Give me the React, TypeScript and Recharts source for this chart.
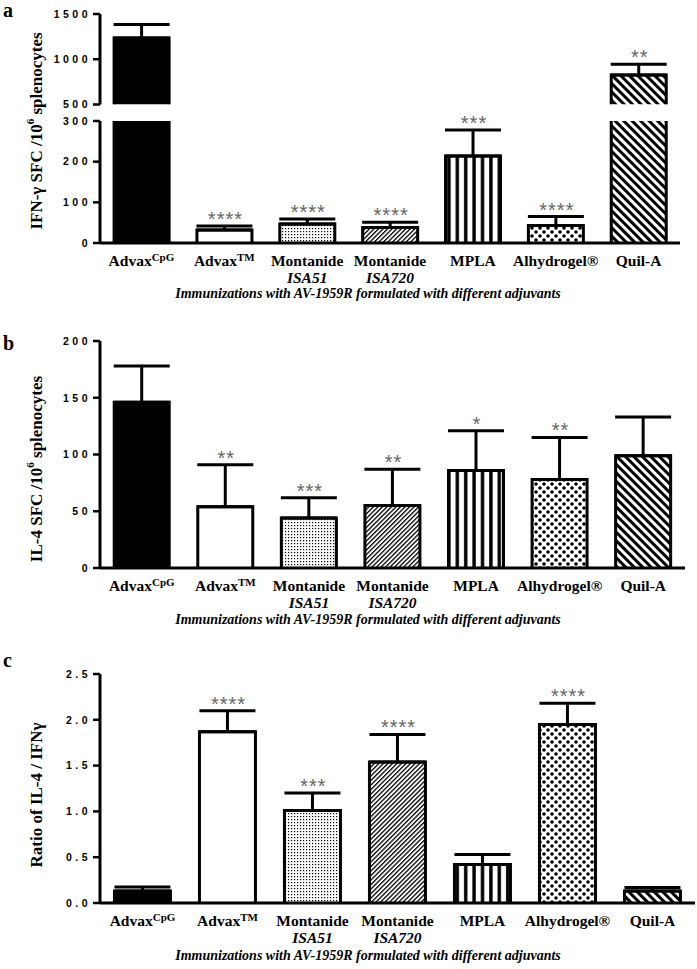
import type { ReactNode } from "react";
import { BarChart, Bar, XAxis, YAxis, ErrorBar, LabelList } from "recharts";

const SERIF = '"Liberation Serif", "Times New Roman", Times, serif';
const SANS = '"Liberation Sans", Arial, Helvetica, sans-serif';

/* adjuvant groups, in plot order */
const GROUPS = ["AdvaxCpG", "AdvaxTM", "Montanide ISA51", "Montanide ISA720", "MPLA", "Alhydrogel®", "Quil-A"];
const NAME_MAIN = ["Advax", "Advax", "Montanide", "Montanide", "MPLA", "Alhydrogel®", "Quil-A"];
const NAME_SUP = ["CpG", "TM", "", "", "", "", ""];
const NAME_SUB = ["", "", "ISA51", "ISA720", "", "", ""];

/* a: IFN-γ SFC / 10^6 splenocytes */
const IFN_MEAN = [1235, 32, 47, 38, 214, 43, 826];
const IFN_SD = [149, 10, 12, 13, 64, 22, 118];
const IFN_STARS = ["", "****", "****", "****", "***", "****", "**"];
const IFN_LOW_TICKS = [0, 100, 200, 300];
const IFN_HIGH_TICKS = [500, 1000, 1500];

/* b: IL-4 SFC / 10^6 splenocytes */
const IL4_MEAN = [146, 54, 44, 55, 86, 78, 99];
const IL4_SD = [32, 37, 18, 32, 35, 37, 34];
const IL4_STARS = ["", "**", "***", "**", "*", "**", ""];
const IL4_TICKS = [0, 50, 100, 150, 200];

/* c: IL-4 / IFN-γ ratio */
const RATIO_MEAN = [0.13, 1.87, 1.01, 1.54, 0.42, 1.95, 0.13];
const RATIO_SD = [0.045, 0.23, 0.19, 0.3, 0.11, 0.23, 0.04];
const RATIO_STARS = ["", "****", "***", "****", "", "****", ""];
const RATIO_TICKS = [0, 0.5, 1, 1.5, 2, 2.5];

const SUBTITLE = "Immunizations with AV-1959R formulated with different adjuvants";

const FILLS = ["#000", "#fff", "url(#pat-dots)", "url(#pat-fine)", "url(#pat-vert)", "url(#pat-diamond)", "url(#pat-diag)"];

type Row = { group: string; idx: number; value: number | null; err: [number, number] | null; stars: string };

function buildRows(
  mean: number[], sd: number[], stars: string[],
  showBar: (v: number) => boolean = () => true,
  showErr: (v: number) => boolean = () => true,
): Row[] {
  return GROUPS.map((group, i) => {
    const v = mean[i];
    const e = showErr(v);
    return { group, idx: i, value: showBar(v) ? v : null, err: e ? [0, sd[i]] : null, stars: e ? stars[i] : "" };
  });
}

const ifnHigh = buildRows(IFN_MEAN, IFN_SD, IFN_STARS, (v) => v >= 500, (v) => v >= 500);
const ifnLow = buildRows(IFN_MEAN, IFN_SD, IFN_STARS, () => true, (v) => v <= 300);
const il4Rows = buildRows(IL4_MEAN, IL4_SD, IL4_STARS);
const ratioRows = buildRows(RATIO_MEAN, RATIO_SD, RATIO_STARS);

function PatternBar(props: any) {
  const { x, y, width, height, payload } = props;
  if (!width || !height || height <= 0) return <g />;
  const fill = FILLS[payload?.idx ?? 0];
  return (
    <g>
      <rect x={x} y={y} width={width} height={height} fill={fill} />
      <path d={`M${x},${y + height}V${y}H${x + width}V${y + height}`} fill="none" stroke="#000" strokeWidth={3} />
    </g>
  );
}

function CategoryTick({ x, y, payload }: any) {
  const i = GROUPS.indexOf(payload.value);
  return (
    <g>
      <text x={x} y={y + 23} textAnchor="middle" fontFamily={SERIF} fontWeight="bold" fontSize={15.5} fill="#000">
        {NAME_MAIN[i]}
        {NAME_SUP[i] && <tspan dy={-5} fontSize={11}>{NAME_SUP[i]}</tspan>}
      </text>
      {NAME_SUB[i] && (
        <text x={x} y={y + 40} textAnchor="middle" fontFamily={SERIF} fontWeight="bold" fontStyle="italic" fontSize={15.5} fill="#000">
          {NAME_SUB[i]}
        </text>
      )}
    </g>
  );
}

function ValueTick({ x, y, payload, digits }: any) {
  const v = Number(payload.value);
  return (
    <text x={x} y={y} dy="0.36em" textAnchor="end" fontFamily={SANS} fontWeight="bold" fontSize={10.5} fill="#000" style={{ letterSpacing: "3.5px" }}>
      {digits ? v.toFixed(digits) : String(v)}
    </text>
  );
}

const starLabel = (rows: Row[], base: number) => (p: any) => {
  const row = rows[p.value];
  if (!row || !row.stars || row.value == null || !row.err) return null;
  const vb = p.viewBox || p;
  const ppu = vb.height / (row.value - base);
  const top = vb.y - row.err[1] * ppu;
  return (
    <text x={vb.x + vb.width / 2 + 1} y={top} textAnchor="middle" fontFamily={SANS} fontSize={20} fill="#666" style={{ letterSpacing: "1px" }}>
      {row.stars}
    </text>
  );
};

const yTitle = (cy: number, content: ReactNode) => () => (
  <text transform={`rotate(-90 36 ${cy})`} x={36} y={cy} textAnchor="middle" dominantBaseline="central" fontFamily={SERIF} fontWeight="bold" fontSize={17} fill="#000">
    {content}
  </text>
);

const subtitle = (y: number) => () => (
  <text x={368} y={y} textAnchor="middle" fontFamily={SERIF} fontWeight="bold" fontStyle="italic" fontSize={14} fill="#000">
    {SUBTITLE}
  </text>
);

type PanelProps = {
  rows: Row[];
  height: number;
  margin: { top: number; right: number; bottom: number; left: number };
  domain: [number, number];
  ticks: number[];
  digits?: number;
  base?: number;
  hideX?: boolean;
  xHeight?: number;
  yLabel?: any;
  xLabel?: any;
};

function Panel({ rows, height, margin, domain, ticks, digits = 0, base = 0, hideX, xHeight = 30, yLabel, xLabel }: PanelProps) {
  return (
    <BarChart width={697} height={height} data={rows} margin={margin} barCategoryGap="17%">
      <XAxis
        dataKey="group"
        hide={hideX}
        height={xHeight}
        interval={0}
        tickLine={false}
        tickSize={0}
        tickMargin={0}
        axisLine={{ stroke: "#000", strokeWidth: 3 }}
        tick={<CategoryTick />}
        label={xLabel}
      />
      <YAxis
        type="number"
        domain={domain}
        ticks={ticks}
        allowDataOverflow
        interval={0}
        width={60}
        tickSize={7}
        tickMargin={2}
        axisLine={{ stroke: "#000", strokeWidth: 3 }}
        tickLine={{ stroke: "#000", strokeWidth: 2.5 }}
        tick={<ValueTick digits={digits} />}
        label={yLabel}
      />
      <Bar dataKey="value" isAnimationActive={false} shape={PatternBar}>
        <ErrorBar dataKey="err" direction="y" width={28} stroke="#000" strokeWidth={3} isAnimationActive={false} />
        <LabelList dataKey="idx" content={starLabel(rows, base)} />
      </Bar>
    </BarChart>
  );
}

function Patterns() {
  return (
    <svg width={0} height={0} style={{ position: "absolute" }}>
      <defs>
        <pattern id="pat-dots" width={3} height={3} patternUnits="userSpaceOnUse">
          <rect width={3} height={3} fill="#fff" />
          <rect width={1.2} height={1.2} fill="#000" />
        </pattern>
        <pattern id="pat-fine" width={3.2} height={3.2} patternUnits="userSpaceOnUse" patternTransform="rotate(45)">
          <rect width={3.2} height={3.2} fill="#fff" />
          <rect width={1.3} height={3.2} fill="#000" />
        </pattern>
        <pattern id="pat-vert" width={8.4} height={10} patternUnits="userSpaceOnUse">
          <rect width={8.4} height={10} fill="#fff" />
          <rect x={2} width={3.4} height={10} fill="#000" />
        </pattern>
        <pattern id="pat-diamond" width={8} height={8} patternUnits="userSpaceOnUse">
          <rect width={8} height={8} fill="#fff" />
          <circle cx={0} cy={0} r={1.8} fill="#000" />
          <circle cx={8} cy={0} r={1.8} fill="#000" />
          <circle cx={0} cy={8} r={1.8} fill="#000" />
          <circle cx={8} cy={8} r={1.8} fill="#000" />
          <circle cx={4} cy={4} r={1.8} fill="#000" />
        </pattern>
        <pattern id="pat-diag" width={6} height={6} patternUnits="userSpaceOnUse" patternTransform="rotate(-45)">
          <rect width={6} height={6} fill="#fff" />
          <rect width={3} height={6} fill="#000" />
        </pattern>
      </defs>
    </svg>
  );
}

const letterStyle = { position: "absolute" as const, left: 3, fontFamily: SERIF, fontWeight: "bold" as const, fontSize: 20, lineHeight: 1 };

export default function App() {
  return (
    <div style={{ position: "absolute", left: 0, top: 0, width: 697, height: 969, background: "#fff", overflow: "hidden" }}>
      <Patterns />

      {/* a: broken axis, lower segment 0-300 */}
      <div style={{ position: "absolute", left: 0, top: 0 }}>
        <Panel
          rows={ifnLow}
          height={330}
          margin={{ top: 121, right: 17, bottom: 37, left: 40 }}
          xHeight={50}
          domain={[0, 300]}
          ticks={IFN_LOW_TICKS}
          yLabel={yTitle(131, <>IFN-γ SFC /10<tspan dy={-6} fontSize={11}>6</tspan><tspan dy={6}> splenocytes</tspan></>)}
          xLabel={subtitle(298)}
        />
      </div>
      {/* a: upper segment 500-1500 */}
      <div style={{ position: "absolute", left: 0, top: 0 }}>
        <Panel
          rows={ifnHigh}
          height={110}
          margin={{ top: 14, right: 17, bottom: 5.5, left: 40 }}
          hideX
          domain={[500, 1500]}
          ticks={IFN_HIGH_TICKS}
          base={500}
        />
      </div>

      <div style={{ position: "absolute", left: 0, top: 300 }}>
        <Panel
          rows={il4Rows}
          height={340}
          margin={{ top: 41, right: 12, bottom: 12, left: 40 }}
          xHeight={60}
          domain={[0, 200]}
          ticks={IL4_TICKS}
          yLabel={yTitle(169, <>IL-4 SFC /10<tspan dy={-6} fontSize={11}>6</tspan><tspan dy={6}> splenocytes</tspan></>)}
          xLabel={subtitle(324)}
        />
      </div>

      <div style={{ position: "absolute", left: 0, top: 630 }}>
        <Panel
          rows={ratioRows}
          height={339}
          margin={{ top: 44, right: 2, bottom: 8, left: 40 }}
          xHeight={58}
          domain={[0, 2.5]}
          ticks={RATIO_TICKS}
          digits={1}
          yLabel={yTitle(165, <>Ratio of IL-4 / IFNγ</>)}
          xLabel={subtitle(330)}
        />
      </div>

      <div style={{ ...letterStyle, top: 0 }}>a</div>
      <div style={{ ...letterStyle, top: 333 }}>b</div>
      <div style={{ ...letterStyle, top: 650 }}>c</div>
    </div>
  );
}
